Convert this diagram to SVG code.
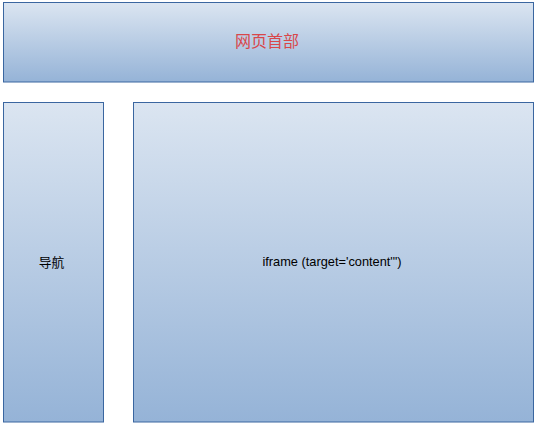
<svg xmlns="http://www.w3.org/2000/svg" width="543" height="428" viewBox="0 0 543 428">
<defs>
<linearGradient id="g" x1="0" y1="0" x2="0" y2="1">
<stop offset="0" stop-color="#dbe5f1"/>
<stop offset="1" stop-color="#95b3d7"/>
</linearGradient>
<style>
.box{fill:url(#g);stroke:#3a66a0;stroke-width:1}
.t{font-family:"Liberation Sans","Noto Sans CJK SC",sans-serif;font-size:12.8px;fill:#000;text-anchor:middle}
.r{font-family:"Liberation Sans","Noto Sans CJK SC",sans-serif;font-size:16px;fill:#d9474a;text-anchor:middle}
</style>
</defs>
<g id="header">
<rect class="box" x="3.5" y="2.5" width="530" height="79.5"/>
<text class="r" x="267" y="47">网页首部</text>
</g>
<g id="nav">
<rect class="box" x="3.5" y="102.5" width="100" height="319.5"/>
<text class="t" x="51.5" y="267">导航</text>
</g>
<g id="iframe">
<rect class="box" x="133.5" y="102.5" width="400" height="319.5"/>
<text class="t" x="332" y="266">iframe (target='content'")</text>
</g>
<g id="connectors"></g>
</svg>
